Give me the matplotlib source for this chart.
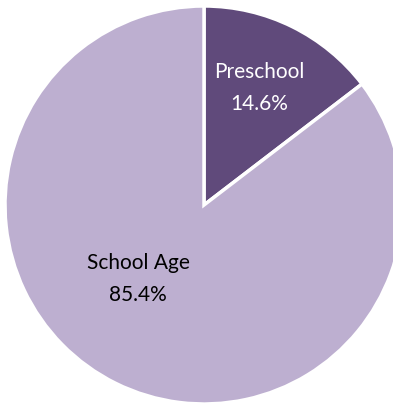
import matplotlib.pyplot as plt

labels = ["Preschool", "School Age"]
shares = [14.6, 85.4]
colors = ["#604A7B", "#BDAFD0"]
text_colors = ["white", "black"]
# label anchor positions in pixel-like data coords (x, y from bottom)
label_pos = [(259, 316), (138, 125)]

plt.rcParams['font.family'] = ['Lato', 'DejaVu Sans']

fig = plt.figure(figsize=(3.93, 4.04), dpi=100)
ax = fig.add_axes([0, 0, 1, 1])

ax.pie(shares, colors=colors, startangle=90, counterclock=False,
       center=(204, 199), radius=199, frame=True,
       wedgeprops=dict(edgecolor='white', linewidth=2.5))
ax.set_xlim(0, 393)
ax.set_ylim(0, 404)
ax.set_aspect('equal')
ax.axis('off')

for lab, val, (x, y), tc in zip(labels, shares, label_pos, text_colors):
    ax.text(x, y + 16, lab, ha='center', va='center', color=tc, fontsize=15)
    ax.text(x, y - 16, f"{val:.1f}%", ha='center', va='center', color=tc, fontsize=15)

fig.savefig("out.png", dpi=100)
